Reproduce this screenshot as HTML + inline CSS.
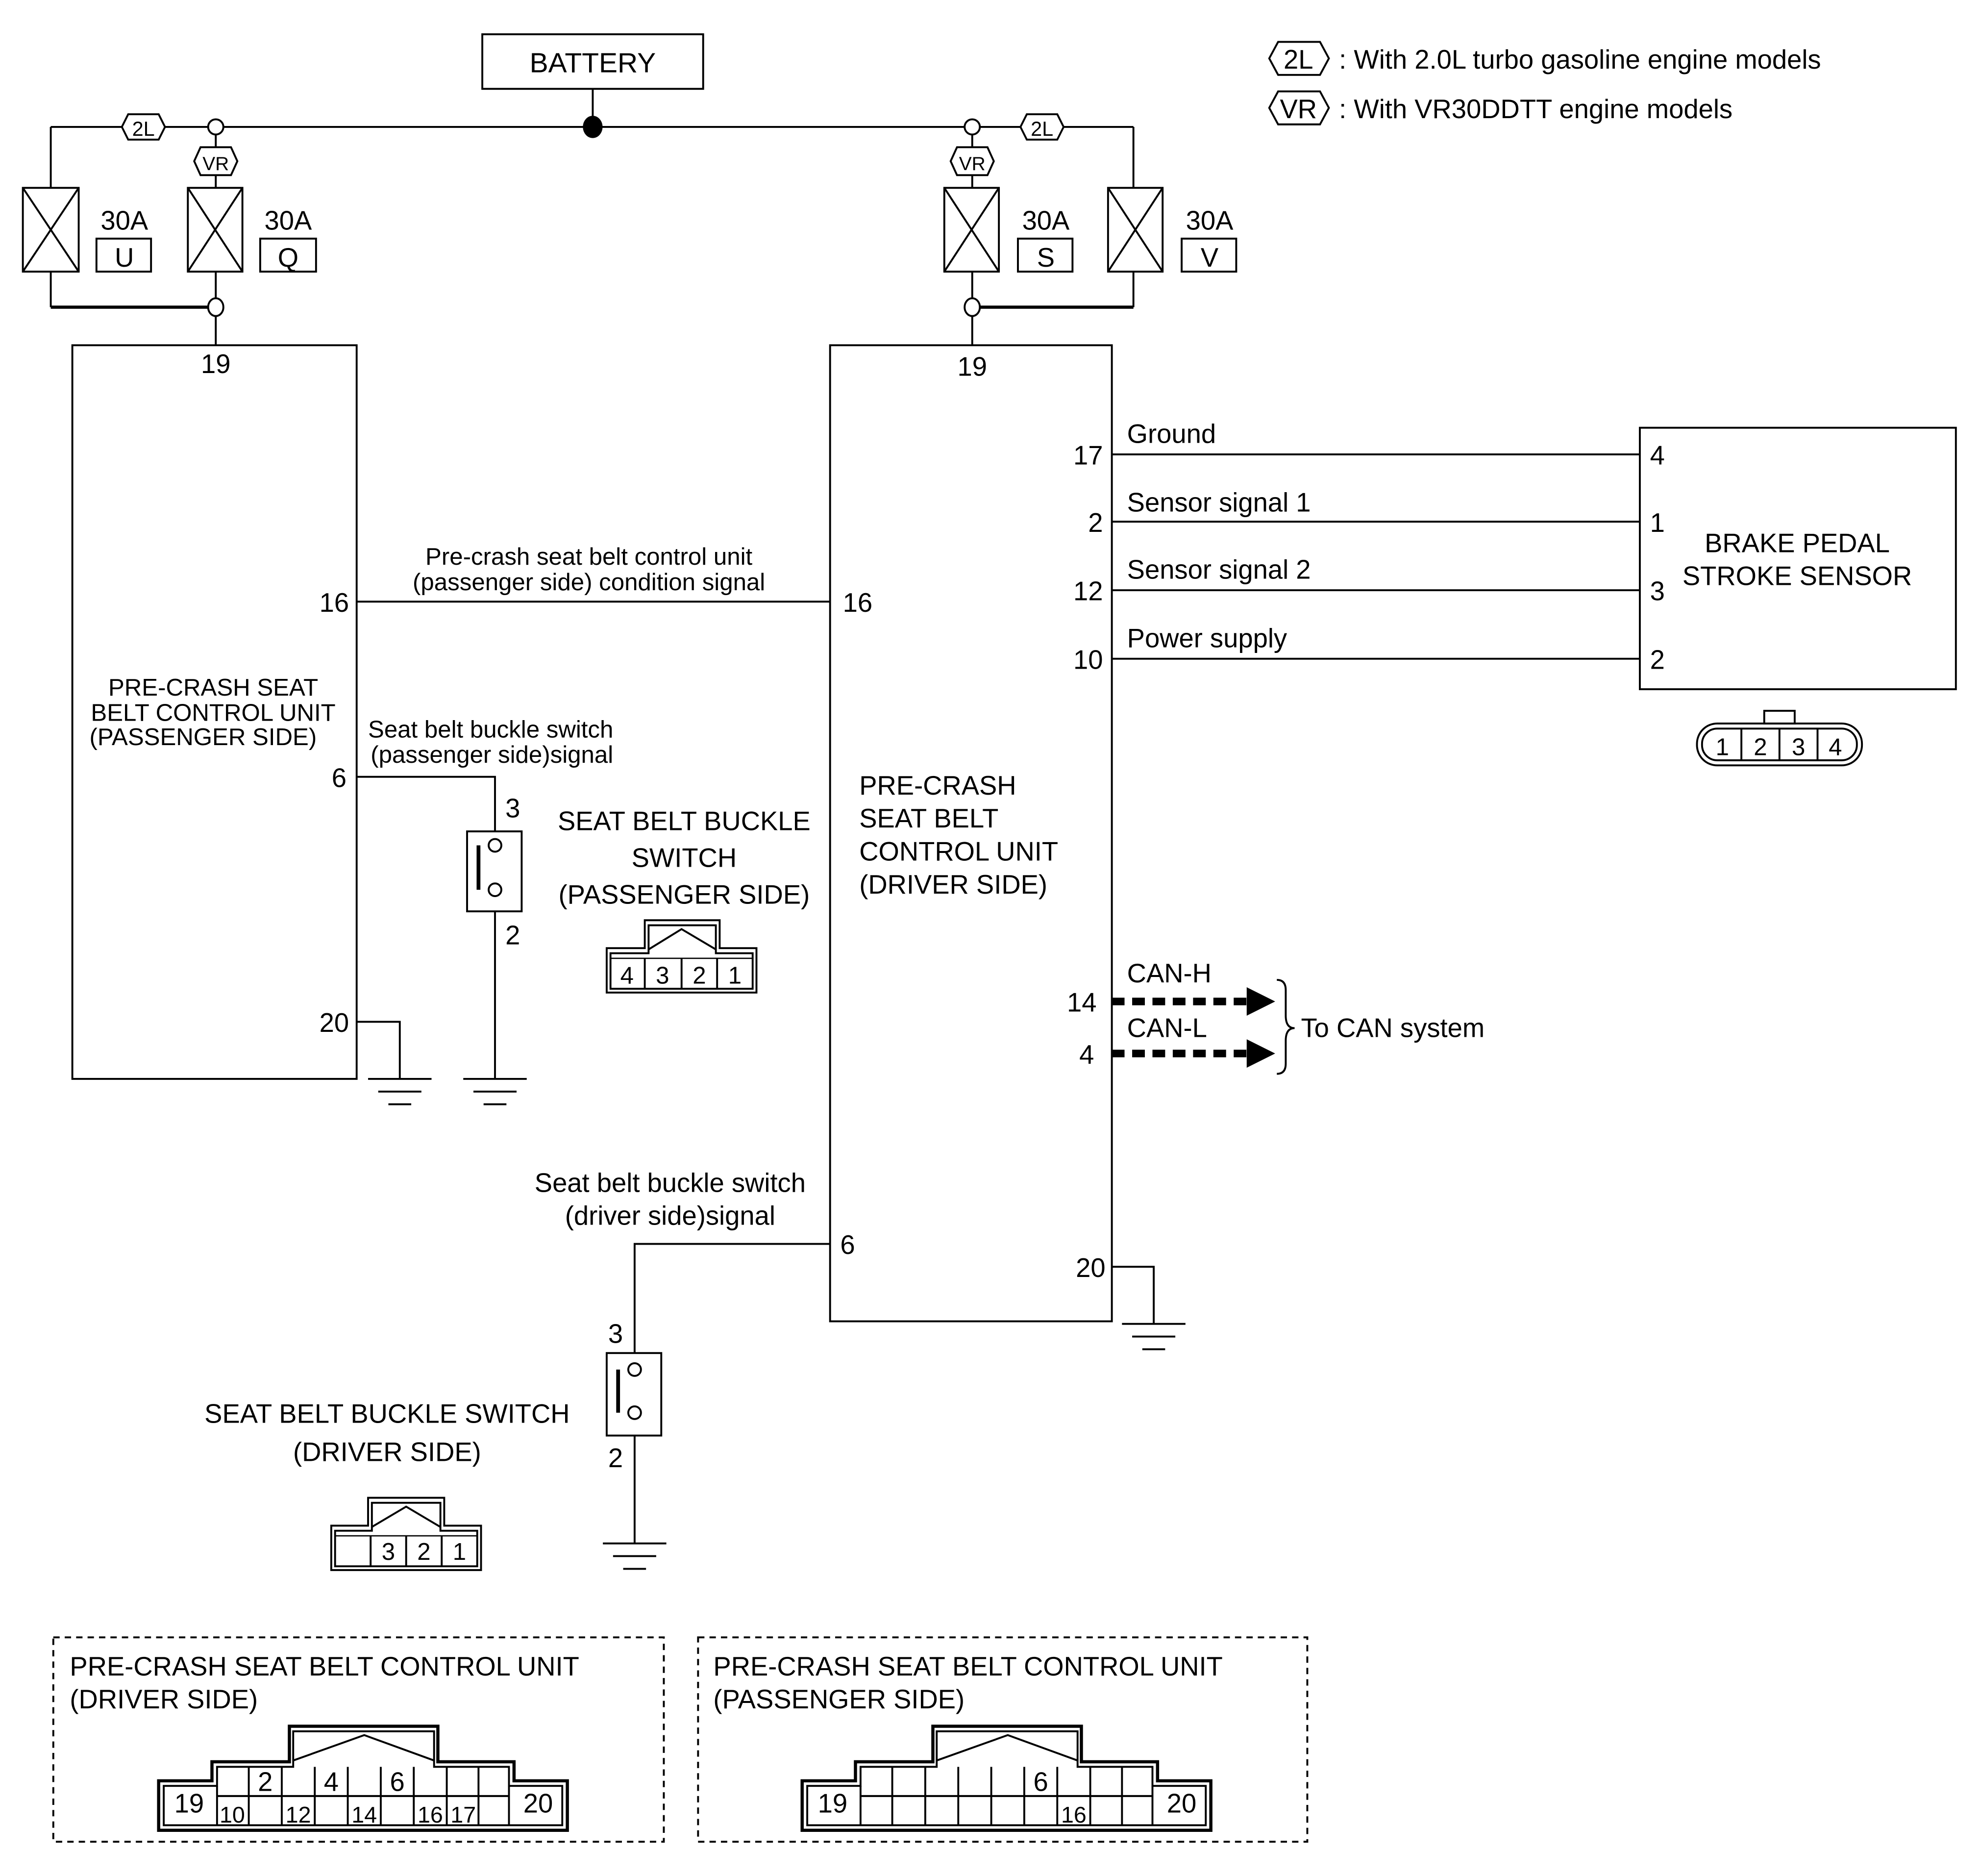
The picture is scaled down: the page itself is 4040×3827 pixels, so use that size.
<!DOCTYPE html>
<html><head><meta charset="utf-8"><style>
html,body{margin:0;padding:0;background:#fff}
svg{display:block}
text{font-family:"Liberation Sans",sans-serif;fill:#000}
</style></head><body>
<svg width="4040" height="3827" viewBox="0 0 1560 1478" preserveAspectRatio="none" xmlns="http://www.w3.org/2000/svg">
<g stroke="#000" stroke-width="1.5" fill="none">
<!-- battery -->
<rect x="380" y="27" width="174" height="43"/>
<line x1="467" y1="70" x2="467" y2="100"/>
<line x1="40" y1="100" x2="893" y2="100"/>
<ellipse cx="467" cy="100" rx="7" ry="8" fill="#000"/>
<!-- left fuses -->
<line x1="40" y1="100" x2="40" y2="148"/>
<line x1="170" y1="100" x2="170" y2="148"/>
<rect x="18" y="148" width="44" height="66"/><line x1="18" y1="148" x2="62" y2="214"/><line x1="62" y1="148" x2="18" y2="214"/>
<rect x="148" y="148" width="43" height="66"/><line x1="148" y1="148" x2="191" y2="214"/><line x1="191" y1="148" x2="148" y2="214"/>
<line x1="40" y1="214" x2="40" y2="242"/><line x1="40" y1="242" x2="170" y2="242" stroke-width="2.5"/>
<line x1="170" y1="214" x2="170" y2="272"/>
<rect x="76" y="188" width="43" height="26"/><rect x="205" y="188" width="44" height="26"/>
<!-- right fuses -->
<line x1="893" y1="100" x2="893" y2="148"/>
<line x1="766" y1="100" x2="766" y2="148"/>
<rect x="744" y="148" width="43" height="66"/><line x1="744" y1="148" x2="787" y2="214"/><line x1="787" y1="148" x2="744" y2="214"/>
<rect x="873" y="148" width="43" height="66"/><line x1="873" y1="148" x2="916" y2="214"/><line x1="916" y1="148" x2="873" y2="214"/>
<line x1="893" y1="214" x2="893" y2="242"/><line x1="766" y1="242" x2="893" y2="242" stroke-width="2.5"/>
<line x1="766" y1="214" x2="766" y2="272"/>
<rect x="802" y="188" width="43" height="26"/><rect x="931" y="188" width="43" height="26"/>
<!-- hexes -->
<polygon points="96,100 101,90 125,90 130,100 125,110 101,110" fill="#fff"/>
<polygon points="804,100 809,90 833,90 838,100 833,110 809,110" fill="#fff"/>
<polygon points="153,127 158,116 182,116 187,127 182,138 158,138" fill="#fff"/>
<polygon points="749,127 754,116 778,116 783,127 778,138 754,138" fill="#fff"/>
<ellipse cx="170" cy="100" rx="6" ry="6" fill="#fff"/>
<ellipse cx="766" cy="100" rx="6" ry="6" fill="#fff"/>
<ellipse cx="170" cy="242" rx="6" ry="7" fill="#fff"/>
<ellipse cx="766" cy="242" rx="6" ry="7" fill="#fff"/>
<!-- legend hexes -->
<polygon points="1000,46 1007,33 1040,33 1047,46 1040,59 1007,59"/>
<polygon points="1000,85 1007,72 1040,72 1047,85 1040,98 1007,98"/>
<!-- units -->
<rect x="57" y="272" width="224" height="578"/>
<rect x="654" y="272" width="222" height="769"/>
<line x1="281" y1="474" x2="654" y2="474"/>
<!-- passenger pin 6 -->
<polyline points="281,612 390,612 390,655"/>
<rect x="368" y="655" width="43" height="63"/>
<line x1="390" y1="718" x2="390" y2="850"/>
<circle cx="390" cy="666" r="5" fill="#fff"/><circle cx="390" cy="701" r="5" fill="#fff"/>
<line x1="377" y1="666" x2="377" y2="701" stroke-width="3"/>
<line x1="365" y1="850" x2="415" y2="850"/><line x1="373" y1="860" x2="407" y2="860"/><line x1="381" y1="870" x2="399" y2="870"/>
<polyline points="281,805 315,805 315,850"/>
<line x1="290" y1="850" x2="340" y2="850"/><line x1="298" y1="860" x2="332" y2="860"/><line x1="306" y1="870" x2="324" y2="870"/>
<!-- driver right side -->
<line x1="876" y1="358" x2="1292" y2="358"/>
<line x1="876" y1="411" x2="1292" y2="411"/>
<line x1="876" y1="465" x2="1292" y2="465"/>
<line x1="876" y1="519" x2="1292" y2="519"/>
<rect x="1292" y="337" width="249" height="206"/>
<rect x="1337" y="570" width="130" height="33" rx="16"/>
<rect x="1341" y="574" width="122" height="25" rx="12"/>
<line x1="1372" y1="574" x2="1372" y2="599"/><line x1="1402" y1="574" x2="1402" y2="599"/><line x1="1432" y1="574" x2="1432" y2="599"/>
<rect x="1390" y="560" width="24" height="10"/>
<!-- CAN -->
<line x1="876" y1="789" x2="985" y2="789" stroke-width="6" stroke-dasharray="10,6"/>
<line x1="876" y1="830" x2="985" y2="830" stroke-width="6" stroke-dasharray="10,6"/>
<polygon points="983,779 1003,789 983,799" fill="#000"/>
<polygon points="983,820 1003,830 983,840" fill="#000"/>
<path d="M1006,772 Q1013,772 1013,780 L1013,800 Q1013,810 1020,810 Q1013,810 1013,820 L1013,838 Q1013,846 1006,846"/>
<!-- driver pin 6 -->
<polyline points="654,980 500,980 500,1066"/>
<rect x="478" y="1066" width="43" height="65"/>
<circle cx="500" cy="1079" r="5" fill="#fff"/><circle cx="500" cy="1113" r="5" fill="#fff"/>
<line x1="487" y1="1079" x2="487" y2="1113" stroke-width="3"/>
<line x1="500" y1="1131" x2="500" y2="1216"/>
<line x1="475" y1="1216" x2="525" y2="1216"/><line x1="483" y1="1226" x2="517" y2="1226"/><line x1="491" y1="1236" x2="509" y2="1236"/>
<polyline points="876,998 909,998 909,1043"/>
<line x1="884" y1="1043" x2="934" y2="1043"/><line x1="892" y1="1053" x2="926" y2="1053"/><line x1="900" y1="1063" x2="918" y2="1063"/>
<!-- passenger switch connector -->
<path d="M478,782 L478,747 L508,747 L508,725 L567,725 L567,747 L596,747 L596,782 Z"/>
<path d="M481,779 L481,751 L511,751 L511,729 L564,729 L564,751 L593,751 L593,779 Z"/>
<polyline points="511,748 537,732 564,748"/>
<line x1="481" y1="755" x2="593" y2="755" stroke-width="1"/>
<line x1="508" y1="755" x2="508" y2="779"/><line x1="537" y1="755" x2="537" y2="779"/><line x1="565" y1="755" x2="565" y2="779"/>
<!-- driver switch connector -->
<path d="M261,1237 L261,1202 L290,1202 L290,1180 L350,1180 L350,1202 L379,1202 L379,1237 Z"/>
<path d="M264,1234 L264,1206 L293,1206 L293,1184 L347,1184 L347,1206 L376,1206 L376,1234 Z"/>
<polyline points="293,1203 320,1187 347,1203"/>
<line x1="264" y1="1210" x2="376" y2="1210" stroke-width="1"/>
<line x1="292" y1="1210" x2="292" y2="1234"/><line x1="320" y1="1210" x2="320" y2="1234"/><line x1="348" y1="1210" x2="348" y2="1234"/>
<!-- dashed boxes -->
<rect x="42" y="1290" width="481" height="161" stroke-dasharray="5,4"/>
<rect x="550" y="1290" width="480" height="161" stroke-dasharray="5,4"/>
</g>
<!-- bottom connectors -->
<g stroke="#000" fill="none" stroke-width="1.5">
<g id="c1">
<path d="M125,1442 L125,1403 L167,1403 L167,1388 L228,1388 L228,1360 L345,1360 L345,1388 L405,1388 L405,1403 L447,1403 L447,1442 Z" stroke-width="2.5"/>
<path d="M129,1438 L129,1407 L171,1407 L171,1392 L231,1392 L231,1364 L342,1364 L342,1392 L401,1392 L401,1407 L443,1407 L443,1438 Z"/>
<polyline points="231,1387 287,1367 342,1387"/>
<line x1="171" y1="1415" x2="401" y2="1415"/>
<line x1="171" y1="1407" x2="171" y2="1438"/>
<line x1="401" y1="1407" x2="401" y2="1438"/>
<line x1="196" y1="1392" x2="196" y2="1438"/><line x1="222" y1="1392" x2="222" y2="1438"/><line x1="248" y1="1392" x2="248" y2="1438"/><line x1="274" y1="1392" x2="274" y2="1438"/><line x1="300" y1="1392" x2="300" y2="1438"/><line x1="326" y1="1392" x2="326" y2="1438"/><line x1="352" y1="1392" x2="352" y2="1438"/><line x1="377" y1="1392" x2="377" y2="1438"/>
</g>
<use href="#c1" transform="translate(507,0)"/>
</g>
<g font-size="21">
<text x="467" y="57" text-anchor="middle" font-size="22">BATTERY</text>
<text x="113" y="107" text-anchor="middle" font-size="16">2L</text>
<text x="821" y="107" text-anchor="middle" font-size="16">2L</text>
<text x="170" y="134" text-anchor="middle" font-size="15">VR</text>
<text x="766" y="134" text-anchor="middle" font-size="15">VR</text>
<text x="1023" y="54" text-anchor="middle">2L</text>
<text x="1023" y="93" text-anchor="middle">VR</text>
<text x="1055" y="54">: With 2.0L turbo gasoline engine models</text>
<text x="1055" y="93">: With VR30DDTT engine models</text>
<text x="98" y="181" text-anchor="middle">30A</text><text x="98" y="210" text-anchor="middle">U</text>
<text x="227" y="181" text-anchor="middle">30A</text><text x="227" y="210" text-anchor="middle">Q</text>
<text x="824" y="181" text-anchor="middle">30A</text><text x="824" y="210" text-anchor="middle">S</text>
<text x="953" y="181" text-anchor="middle">30A</text><text x="953" y="210" text-anchor="middle">V</text>
<text x="170" y="294" text-anchor="middle">19</text>
<text x="766" y="296" text-anchor="middle">19</text>
<text x="275" y="482" text-anchor="end">16</text>
<text x="273" y="620" text-anchor="end">6</text>
<text x="275" y="813" text-anchor="end">20</text>
<text x="464" y="445" text-anchor="middle" font-size="19">Pre-crash seat belt control unit</text>
<text x="464" y="465" text-anchor="middle" font-size="19">(passenger side) condition signal</text>
<text x="664" y="482">16</text>
<text x="168" y="548" text-anchor="middle" font-size="19">PRE-CRASH SEAT</text>
<text x="168" y="568" text-anchor="middle" font-size="19">BELT CONTROL UNIT</text>
<text x="160" y="587" text-anchor="middle" font-size="19">(PASSENGER SIDE)</text>
<text x="290" y="581" font-size="19">Seat belt buckle switch</text>
<text x="292" y="601" font-size="19">(passenger side)signal</text>
<text x="404" y="644" text-anchor="middle">3</text>
<text x="404" y="744" text-anchor="middle">2</text>
<text x="539" y="654" text-anchor="middle">SEAT BELT BUCKLE</text>
<text x="539" y="683" text-anchor="middle">SWITCH</text>
<text x="539" y="712" text-anchor="middle">(PASSENGER SIDE)</text>
<text x="494" y="775" text-anchor="middle" font-size="19">4</text><text x="522" y="775" text-anchor="middle" font-size="19">3</text><text x="551" y="775" text-anchor="middle" font-size="19">2</text><text x="579" y="775" text-anchor="middle" font-size="19">1</text>
<text x="677" y="626">PRE-CRASH</text>
<text x="677" y="652">SEAT BELT</text>
<text x="677" y="678">CONTROL UNIT</text>
<text x="677" y="704">(DRIVER SIDE)</text>
<text x="869" y="366" text-anchor="end">17</text>
<text x="869" y="419" text-anchor="end">2</text>
<text x="869" y="473" text-anchor="end">12</text>
<text x="869" y="527" text-anchor="end">10</text>
<text x="888" y="349">Ground</text>
<text x="888" y="403">Sensor signal 1</text>
<text x="888" y="456">Sensor signal 2</text>
<text x="888" y="510">Power supply</text>
<text x="1300" y="366">4</text><text x="1300" y="419">1</text><text x="1300" y="473">3</text><text x="1300" y="527">2</text>
<text x="1416" y="435" text-anchor="middle">BRAKE PEDAL</text>
<text x="1416" y="461" text-anchor="middle">STROKE SENSOR</text>
<text x="1357" y="595" text-anchor="middle" font-size="19">1</text><text x="1387" y="595" text-anchor="middle" font-size="19">2</text><text x="1417" y="595" text-anchor="middle" font-size="19">3</text><text x="1446" y="595" text-anchor="middle" font-size="19">4</text>
<text x="888" y="774">CAN-H</text>
<text x="888" y="817">CAN-L</text>
<text x="864" y="797" text-anchor="end">14</text>
<text x="862" y="838" text-anchor="end">4</text>
<text x="1025" y="817">To CAN system</text>
<text x="528" y="939" text-anchor="middle">Seat belt buckle switch</text>
<text x="528" y="965" text-anchor="middle">(driver side)signal</text>
<text x="662" y="988">6</text>
<text x="871" y="1006" text-anchor="end">20</text>
<text x="485" y="1058" text-anchor="middle">3</text>
<text x="485" y="1156" text-anchor="middle">2</text>
<text x="305" y="1121" text-anchor="middle">SEAT BELT BUCKLE SWITCH</text>
<text x="305" y="1151" text-anchor="middle">(DRIVER SIDE)</text>
<text x="306" y="1229" text-anchor="middle" font-size="19">3</text><text x="334" y="1229" text-anchor="middle" font-size="19">2</text><text x="362" y="1229" text-anchor="middle" font-size="19">1</text>
<text x="55" y="1320">PRE-CRASH SEAT BELT CONTROL UNIT</text>
<text x="55" y="1346">(DRIVER SIDE)</text>
<text x="562" y="1320">PRE-CRASH SEAT BELT CONTROL UNIT</text>
<text x="562" y="1346">(PASSENGER SIDE)</text>
<text x="149" y="1428" text-anchor="middle">19</text><text x="424" y="1428" text-anchor="middle">20</text>
<text x="209" y="1411" text-anchor="middle">2</text><text x="261" y="1411" text-anchor="middle">4</text><text x="313" y="1411" text-anchor="middle">6</text>
<g font-size="18"><text x="183" y="1436" text-anchor="middle">10</text><text x="235" y="1436" text-anchor="middle">12</text><text x="287" y="1436" text-anchor="middle">14</text><text x="339" y="1436" text-anchor="middle">16</text><text x="365" y="1436" text-anchor="middle">17</text></g>
<text x="656" y="1428" text-anchor="middle">19</text><text x="931" y="1428" text-anchor="middle">20</text>
<text x="820" y="1411" text-anchor="middle">6</text>
<text x="846" y="1436" text-anchor="middle" font-size="18">16</text>
</g>
</svg>
</body></html>
